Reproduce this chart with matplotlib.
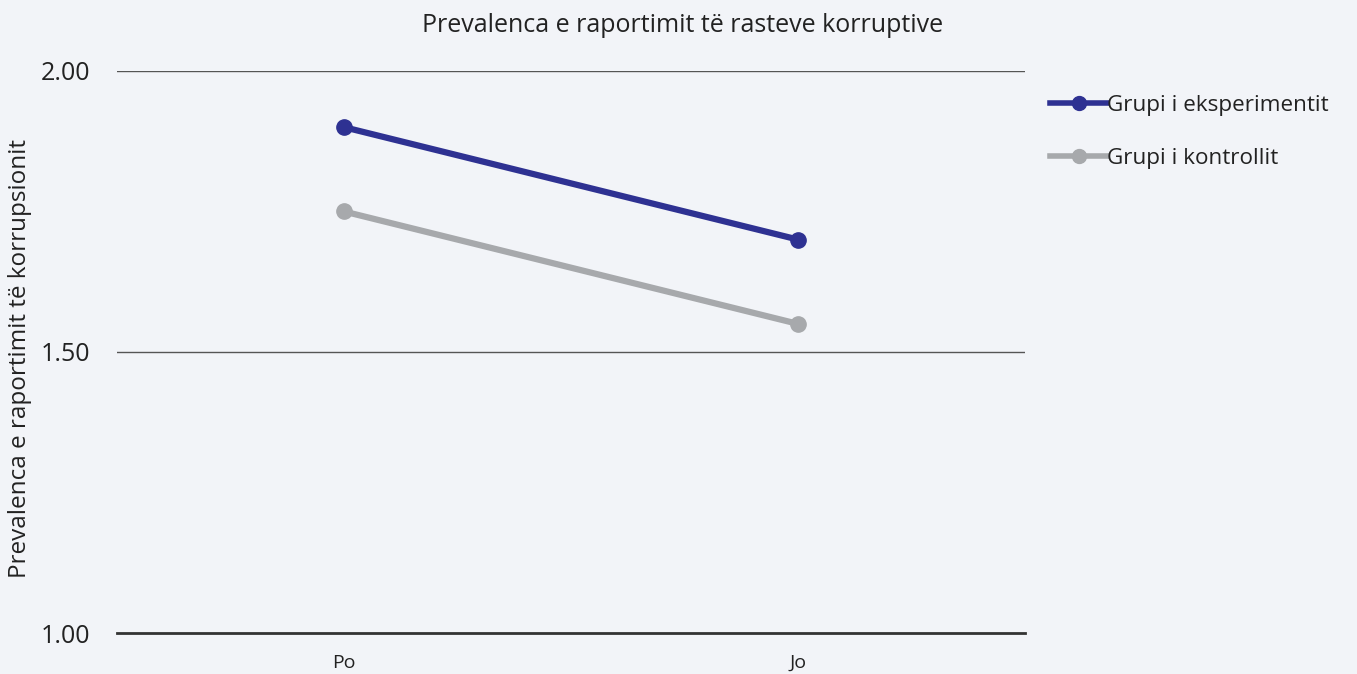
import matplotlib
matplotlib.use("Agg")
import matplotlib.pyplot as plt
from matplotlib.lines import Line2D

categories = ["Po", "Jo"]
experiment = [1.90, 1.70]
control = [1.75, 1.55]
series_names = ["Grupi i eksperimentit", "Grupi i kontrollit"]
yticks = [1.00, 1.50, 2.00]

plt.rcParams['font.family'] = ['Open Sans', 'DejaVu Sans']
bg = "#f2f4f8"
blue = "#2e3192"
gray = "#a7a9ac"
txt = "#222222"
fig = plt.figure(figsize=(13.57, 6.74), dpi=100, facecolor=bg)
ax = fig.add_axes([0.0862, 0.0608, 0.6692, 0.8339], facecolor=bg)

x = list(range(len(categories)))
ax.plot(x, experiment, color=blue, lw=4.5, marker="o", ms=11, label=series_names[0])
ax.plot(x, control, color=gray, lw=4.5, marker="o", ms=11, label=series_names[1])

ax.set_xlim(-0.5, 1.5)
ax.set_ylim(1.0, 2.0)
ax.set_yticks(yticks)
ax.set_yticklabels([f"{v:.2f}" for v in yticks], fontsize=18, color=txt)
ax.set_xticks(x)
ax.set_xticklabels(categories, fontsize=14, color=txt)
ax.tick_params(axis="y", length=0, pad=19)
ax.tick_params(axis="x", length=0, pad=15)
for v in yticks[1:]:
    ax.axhline(v, color="#555555", lw=1.0, zorder=0)
for s in ["top", "right", "left"]:
    ax.spines[s].set_visible(False)
ax.spines["bottom"].set_color("#333333")
ax.spines["bottom"].set_linewidth(2)
fig.text(20 / 1357, 1 - 358 / 674, "Prevalenca e raportimit të korrupsionit", rotation=90,
         fontsize=17.5, color=txt, ha="center", va="center")
fig.text(683 / 1357, 1 - 25 / 674, "Prevalenca e raportimit të rasteve korruptive",
         fontsize=18, color=txt, ha="center", va="center")
handles = [Line2D([], [], color=blue, lw=4, marker="o", ms=10),
           Line2D([], [], color=gray, lw=4, marker="o", ms=10)]
leg = ax.legend(handles, series_names, loc="upper left", bbox_to_anchor=(1.018, 0.974), frameon=False, fontsize=16.2,
                handlelength=2.5, handletextpad=0.0, labelspacing=1.42, borderaxespad=0)
for t in leg.get_texts():
    t.set_color(txt)
fig.savefig("out.png", dpi=100, facecolor=bg)
